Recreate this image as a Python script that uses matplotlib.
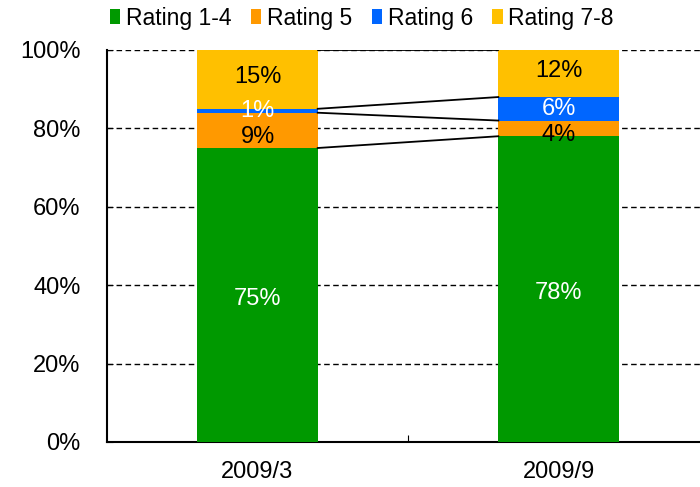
import matplotlib
matplotlib.use("Agg")
import matplotlib.pyplot as plt
from matplotlib.patches import Patch
import numpy as np

plt.rcParams['font.family'] = ['Liberation Sans', 'DejaVu Sans']

categories = ["2009/3", "2009/9"]
series_names = ["Rating 1-4", "Rating 5", "Rating 6", "Rating 7-8"]
rating_1_4 = [75, 78]
rating_5 = [9, 4]
rating_6 = [1, 6]
rating_7_8 = [15, 12]
colors = ["#009900", "#FF9900", "#0066FF", "#FFC000"]
label_colors = ["white", "black", "white", "black"]
label_offsets = [-3, -5, 0, 2]  # vertical nudge of data labels, points
yticks = [0, 20, 40, 60, 80, 100]

series = [rating_1_4, rating_5, rating_6, rating_7_8]

fig = plt.figure(figsize=(7.0, 4.87), dpi=100)
# axes spans beyond right edge of figure (cut off as in reference)
ax = fig.add_axes([107/700, (487-442)/487, 602/700, 392/487])

x = np.arange(len(categories))
width = 0.4
bottom = np.zeros(len(categories))
for vals, c, lc, off in zip(series, colors, label_colors, label_offsets):
    v = np.array(vals, dtype=float)
    ax.bar(x, v, width, bottom=bottom, color=c, edgecolor='none', zorder=3)
    for xi, vi, bi in zip(x, v, bottom):
        ax.annotate(f"{int(vi)}%", (xi, bi + vi/2), xytext=(0, off),
                    textcoords='offset points', ha='center', va='center',
                    color=lc, fontsize=17, zorder=5)
    bottom = bottom + v
    # connecting lines between stacked tops
    ax.plot([x[0] + width/2, x[1] - width/2], [bottom[0], bottom[1]],
            color='black', lw=1.3, zorder=4)

ax.set_xlim(-0.5, 1.5)
ax.set_ylim(0, 100)
ax.set_yticks(yticks)
ax.set_yticklabels([f"{t}%" for t in yticks], fontsize=17)
ax.yaxis.grid(True, linestyle=(0, (4, 2.5)), color='black', lw=1.0, zorder=0)
ax.set_axisbelow(True)
ax.tick_params(axis='y', direction='in', length=4, pad=19)
ax.set_xticks([0.5], minor=False)
ax.set_xticklabels([""])
ax.tick_params(axis='x', direction='in', length=5)
for xi, cat in zip(x, categories):
    ax.text(xi, -0.077, cat, transform=ax.get_xaxis_transform(),
            ha='center', va='center', fontsize=17)
for s in ['top', 'right']:
    ax.spines[s].set_visible(False)
ax.spines['left'].set_linewidth(1.5)
ax.spines['bottom'].set_linewidth(1.5)

handles = [Patch(facecolor=c, edgecolor='none') for c in colors]
fig.legend(handles, series_names, loc='center', bbox_to_anchor=(0.517, 0.963),
           ncol=4, frameon=False, fontsize=16.5, handlelength=0.45, handleheight=0.6,
           handletextpad=0.25, columnspacing=0.85, borderpad=0, borderaxespad=0)

fig.savefig("out.png", dpi=100)
